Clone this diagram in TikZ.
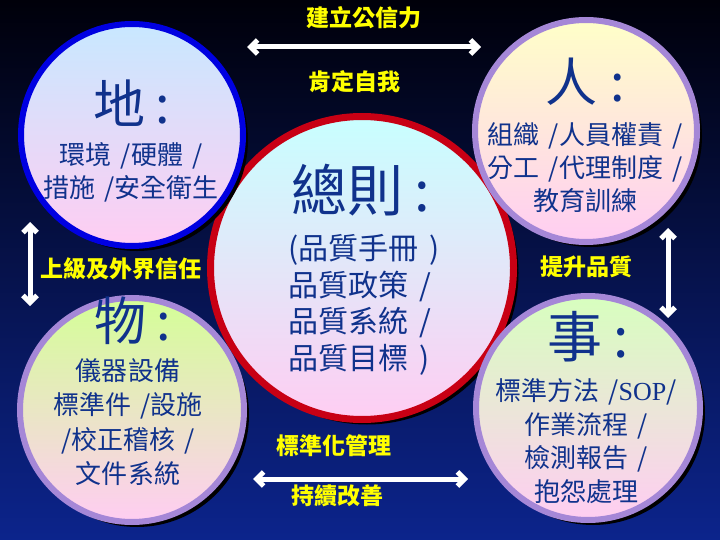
\documentclass[tikz,border=0pt]{standalone}
\usepackage{fontspec}
\newfontfamily\cjk{Noto Sans CJK TC}
\newfontfamily\serifsop{Liberation Serif}
\usetikzlibrary{arrows.meta,shadows}
\definecolor{bgtop}{RGB}{0,0,10}
\definecolor{bgmid}{RGB}{8,26,112}
\definecolor{bgbot}{RGB}{12,36,140}
\definecolor{txtblue}{RGB}{16,50,140}
\definecolor{ylw}{RGB}{255,255,0}
\definecolor{bluebd}{RGB}{0,0,225}
\definecolor{purplebd}{RGB}{165,135,215}
\definecolor{redbd}{RGB}{200,0,20}
\definecolor{pinkbot}{RGB}{255,205,242}
\definecolor{lblue}{RGB}{200,232,255}
\definecolor{lyellow}{RGB}{255,255,200}
\definecolor{lgreen}{RGB}{212,255,150}
\definecolor{lgreen2}{RGB}{215,255,190}
\definecolor{lcyan}{RGB}{200,255,255}
\newcommand{\gp}{\hspace{0.35em}}
\tikzset{
  bubble/.style={circle, inner sep=0pt, line width=6pt, bottom color=pinkbot,
    drop shadow={shadow xshift=5pt, shadow yshift=-5pt, fill=black, opacity=1}},
  ttl/.style={font=\cjk\bfseries\fontsize{23}{26}\selectfont, text=ylw},
  big/.style={font=\cjk\fontsize{52}{56}\selectfont, text=txtblue},
  body/.style={font=\cjk\fontsize{26}{33}\selectfont, text=txtblue, align=center},
  warrow/.style={draw=white, line width=5pt, {Straight Barb[length=7pt,width=14pt]}-{Straight Barb[length=7pt,width=14pt]}}
}
\begin{document}
\begin{tikzpicture}[x=1pt,y=-1pt]
\useasboundingbox (0,0) rectangle (720,540);
\shade[top color=bgtop, middle color=bgmid, bottom color=bgbot] (0,0) rectangle (720,540);
% central circle
\node[bubble, draw=redbd, line width=7pt, top color=lcyan, minimum size=303pt] (ze) at (362,268) {};
% corner circles
\node[bubble, draw=bluebd, top color=lblue, minimum size=222pt] (di) at (132,135) {};
\node[bubble, draw=purplebd, top color=lyellow, minimum size=222pt] (ren) at (586,131) {};
\node[bubble, draw=purplebd, top color=lgreen, minimum size=224pt] (wu) at (132,410) {};
\node[bubble, draw=purplebd, top color=lgreen2, minimum size=224pt] (shi) at (588,408) {};
% texts in circles
\node[big] (dit) at (132,103) {地\hspace{0.2em}:};
\node[body] (dib) at (131,172) {環境\gp/硬體\gp/\\措施\gp/安全衛生};
\node[big] (rent) at (585,82) {人\hspace{0.25em}:};
\node[body] (renb) at (585,168) {組織\gp/人員權責\gp/\\分工\gp/代理制度\gp/\\教育訓練};
\node[font=\cjk\fontsize{56}{60}\selectfont, text=txtblue] (zet) at (361,190) {總則\hspace{0.2em}:};
\node[font=\cjk\fontsize{30}{36.7}\selectfont, text=txtblue, align=left, anchor=west] (zeb) at (285,305) {(品質手冊\gp)\\品質政策\gp/\\品質系統\gp/\\品質目標\gp)};
\node[big] (wut) at (133,321) {物\hspace{0.2em}:};
\node[body, font=\cjk\fontsize{26}{34.5}\selectfont] (wub) at (128,422) {儀器設備\\標準件\gp/設施\\/校正稽核\gp/\\文件系統};
\node[big, font=\cjk\fontsize{55}{58}\selectfont] (shit) at (588,337) {事\hspace{0.2em}:};
\node[body, font=\cjk\fontsize{26}{33.7}\selectfont] (shib) at (586,441) {標準方法\gp/{\serifsop SOP}/\\作業流程\gp/\\檢測報告\gp/\\抱怨處理};
% yellow labels
\node[ttl] (l1) at (364,18) {建立公信力};
\node[ttl] (l2) at (354,82) {肯定自我};
\node[ttl] (l3) at (121,269) {上級及外界信任};
\node[ttl] (l4) at (586,267) {提升品質};
\node[ttl] (l5) at (334,446) {標準化管理};
\node[ttl] (l6) at (337,496) {持續改善};
% arrows
\coordinate (a1) at (247,47); \coordinate (a2) at (481,47);
\coordinate (b1) at (30,222); \coordinate (b2) at (30,306);
\coordinate (c1) at (668,228); \coordinate (c2) at (668,318);
\coordinate (d1) at (253,479); \coordinate (d2) at (468,479);
\draw[warrow] (a1) -- (a2);
\draw[warrow] (b1) -- (b2);
\draw[warrow] (c1) -- (c2);
\draw[warrow] (d1) -- (d2);
\end{tikzpicture}
\end{document}
